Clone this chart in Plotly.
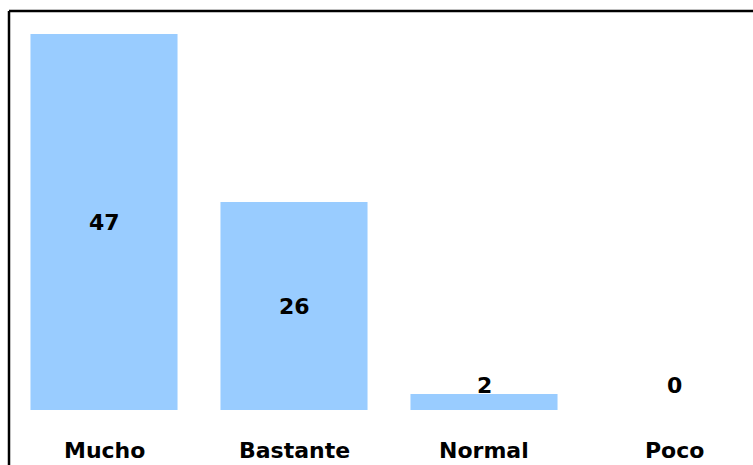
import plotly.graph_objects as go

categories = ["Mucho", "Bastante", "Normal", "Poco"]
values = [47, 26, 2, 0]

W, H = 753, 465
ML, MT = 9, 11
# pixel geometry of the plotting area
px_per_cat = 190.0
px_per_unit = 8.0
base_y = 410  # pixel row of value 0

x_lo = -0.5
x_hi = x_lo + (W - ML) / px_per_cat
y_hi = (base_y - MT) / px_per_unit
y_lo = (base_y - H) / px_per_unit

font_family = "DejaVu Sans"
font_size = 22
min_label_y = 3.1  # lowest position for a value label (short bars)

fig = go.Figure(
    go.Bar(
        x=categories,
        y=values,
        marker=dict(color="#99CCFF", line=dict(width=0)),
        width=0.774,
        hoverinfo="x+y",
    )
)

# value labels: centred in the bar, lifted for very short bars
for c, v in zip(categories, values):
    fig.add_annotation(
        x=c, y=max(v / 2, min_label_y), xref="x", yref="y", text=f"<b>{v}</b>",
        showarrow=False, font=dict(family=font_family, size=font_size, color="black"),
        xanchor="center", yanchor="middle",
    )

# category labels beneath the baseline
for c in categories:
    fig.add_annotation(
        x=c, y=-5, xref="x", yref="y", text=f"<b>{c}</b>", showarrow=False,
        font=dict(family=font_family, size=font_size, color="black"),
        xanchor="center", yanchor="middle",
    )

# outer frame: only the top and left edges fall inside the page
fig.add_shape(type="line", xref="paper", yref="paper", x0=0, x1=1.2, y0=1, y1=1,
              line=dict(color="black", width=2.5))
fig.add_shape(type="line", xref="paper", yref="paper", x0=0, x1=0, y0=-0.2, y1=1,
              line=dict(color="black", width=2.5))

fig.update_layout(
    width=W, height=H,
    margin=dict(l=ML, r=0, t=MT, b=0),
    paper_bgcolor="white", plot_bgcolor="white",
    showlegend=False,
    xaxis=dict(range=[x_lo, x_hi], showticklabels=False, showgrid=False,
               zeroline=False, showline=False, ticks=""),
    yaxis=dict(range=[y_lo, y_hi], showticklabels=False, showgrid=False,
               zeroline=False, showline=False, ticks=""),
)

fig.write_html("out.html")
